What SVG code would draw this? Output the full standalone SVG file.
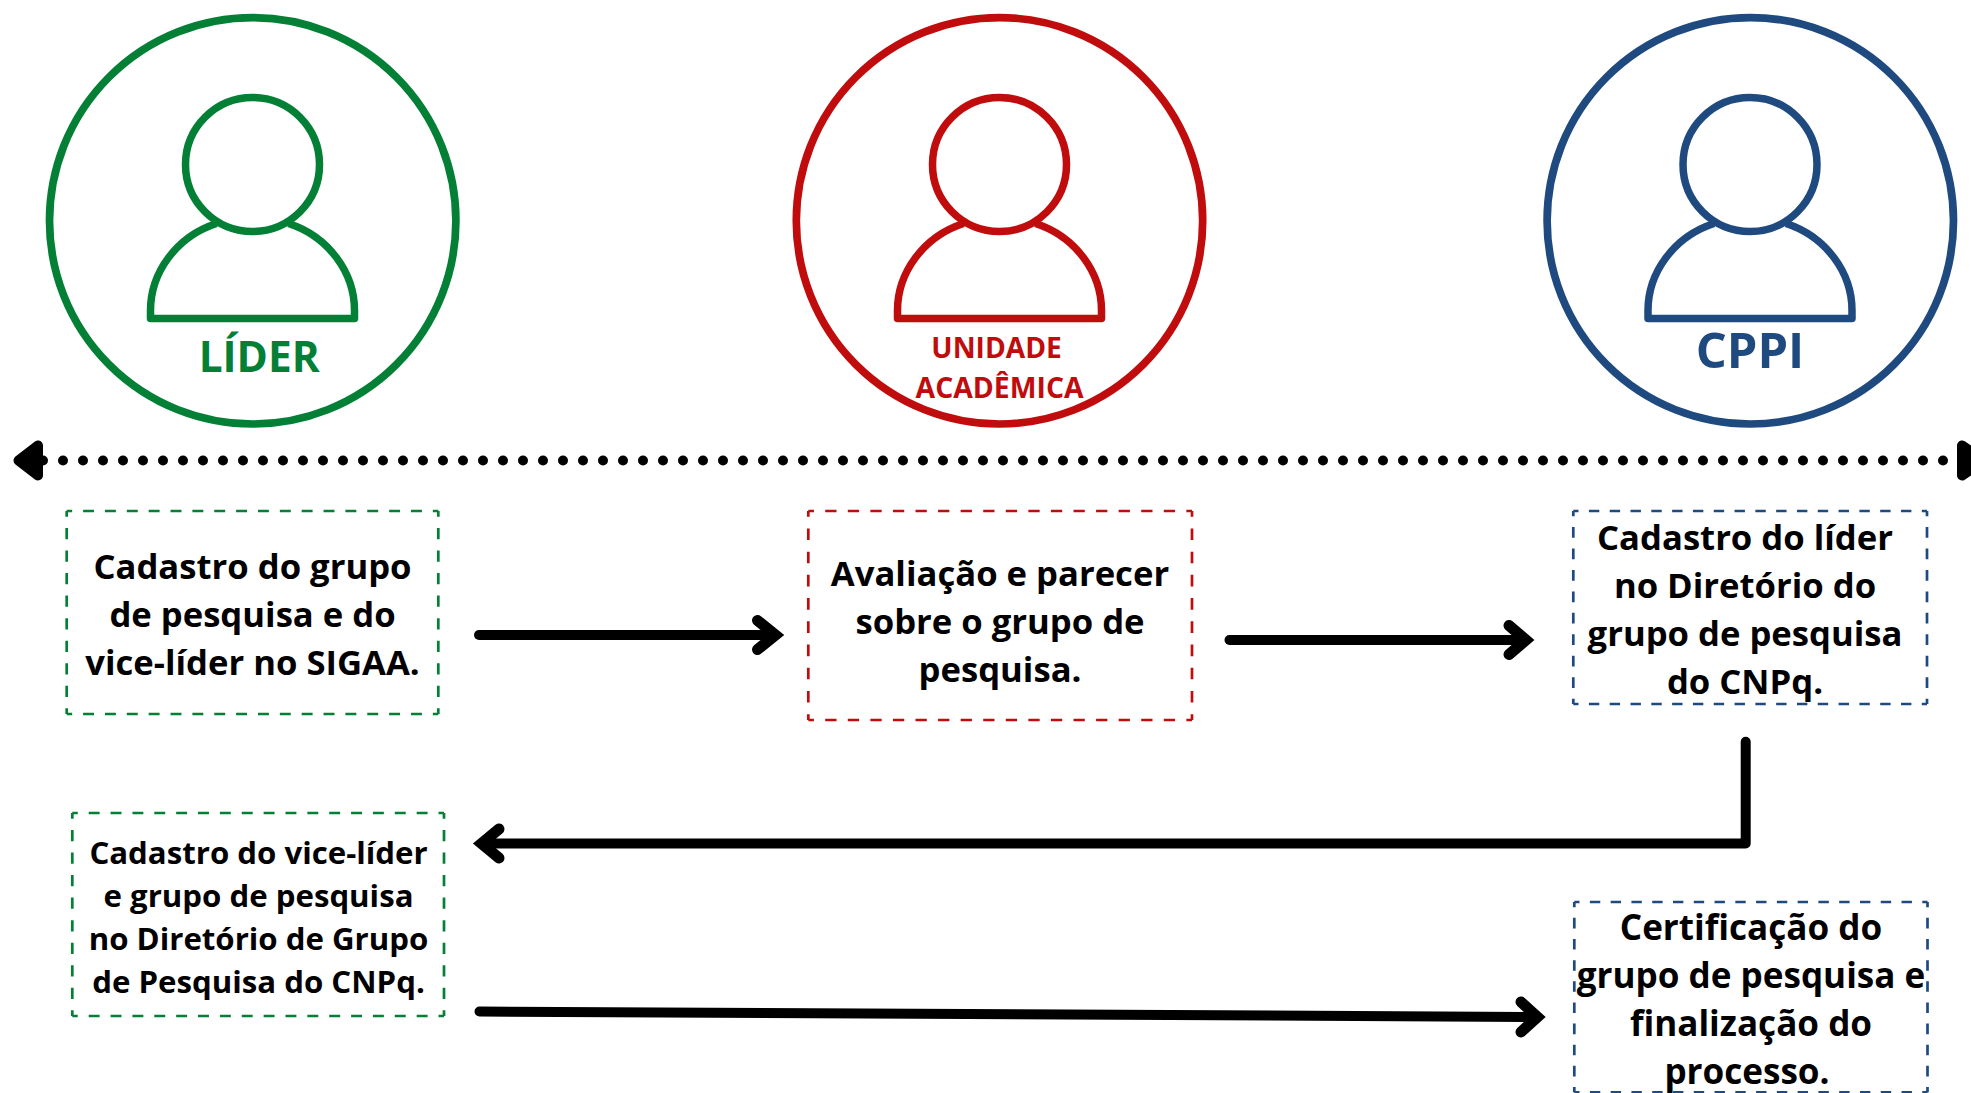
<svg xmlns="http://www.w3.org/2000/svg" width="1971" height="1093" viewBox="0 0 1971 1093">
<style>
text{font-family:"Open Sans","Noto Sans",sans-serif;font-weight:700;text-anchor:middle}
.t{font-size:34.65px;fill:#000}
.u{font-size:35.1px;fill:#000}
.s{font-size:31.2px;fill:#000}
.g{stroke:#038035}.r{stroke:#c00c0c}.b{stroke:#1f4a7f}
.ring{fill:none;stroke-width:7.7}
.ico{fill:none;stroke-width:7.5;stroke-linejoin:round}
.box path{fill:none;stroke-width:2.7;stroke-dasharray:.5 .5;stroke-dashoffset:.25}
.c{fill:none;stroke:#000;stroke-width:10;stroke-linecap:round;stroke-linejoin:round}
.h{fill:none;stroke:#000;stroke-width:11;stroke-linecap:round;stroke-linejoin:miter;stroke-miterlimit:6}
.ah{fill:#000;stroke:#000;stroke-width:10;stroke-linejoin:round}
</style>
<defs>
<g id="person">
<circle cx="0" cy="-56" r="67"/>
<path d="M-36 3C-76 16-102 52-102 90V98H102V90C102 52 76 16 36 3"/>
</g>
</defs>
<g id="lider">
<circle class="ring g" cx="252.7" cy="220.8" r="203.2"/>
<use href="#person" class="ico g" x="252.5" y="220.5"/>
<text x="259.2" y="372" font-size="42.4" fill="#038035">LÍDER</text>
</g>
<g id="unidade">
<circle class="ring r" cx="999.5" cy="220.8" r="203.2"/>
<use href="#person" class="ico r" x="999.5" y="220.5"/>
<text x="996.6" y="358" font-size="28.2" fill="#c00c0c">UNIDADE</text>
<text x="999.6" y="398" font-size="28.4" fill="#c00c0c">ACADÊMICA</text>
</g>
<g id="cppi">
<circle class="ring b" cx="1750.3" cy="220.8" r="203.2"/>
<use href="#person" class="ico b" x="1750" y="220.5"/>
<text x="1750" y="368" font-size="48.8" fill="#1f4a7f">CPPI</text>
</g>
<g id="connectors">
<path d="M43 460.5H1944" fill="none" stroke="#000" stroke-width="10" stroke-linecap="round" stroke-dasharray="0 20"/>
<path class="ah" d="M18.5 460.5L38 445.5V475.5Z"/>
<path class="ah" d="M1962 445.5V475.5L1984 460.5Z"/>
<path class="c" d="M479 635H775"/><path class="h" d="M757.5 620.5L775.5 635L757.5 649.5"/>
<path class="c" d="M1229.5 640H1525"/><path class="h" d="M1509 625.5L1526 640L1509 654.5"/>
<path class="c" d="M1745.7 741.7V843.5H482"/><path class="h" d="M499 829L481.5 843.5L499 858"/>
<path class="c" d="M479.5 1011.5L1537 1017"/><path class="h" d="M1521 1002L1537.5 1017L1521 1032"/>
</g>
<g id="box1" class="box">
<path class="g" pathLength="17" d="M66.7 511H438.3"/><path class="g" pathLength="17" d="M66.7 714H438.3"/>
<path class="g" pathLength="9" d="M66.7 511V714"/><path class="g" pathLength="9" d="M438.3 511V714"/>
<text class="t" x="252.5" y="578.5">Cadastro do grupo</text>
<text class="t" x="252.5" y="626.5">de pesquisa e do</text>
<text class="t" x="252.5" y="674.5">vice-líder no SIGAA.</text>
</g>
<g id="box2" class="box">
<path class="r" pathLength="17" d="M808.3 511H1192"/><path class="r" pathLength="17" d="M808.3 720H1192"/>
<path class="r" pathLength="9" d="M808.3 511V720"/><path class="r" pathLength="9" d="M1192 511V720"/>
<text class="t" x="1000" y="585.5">Avaliação e parecer</text>
<text class="t" x="1000" y="633.5">sobre o grupo de</text>
<text class="t" x="1000" y="681.5">pesquisa.</text>
</g>
<g id="box3" class="box">
<path class="b" pathLength="17" d="M1573.3 511H1927"/><path class="b" pathLength="17" d="M1573.3 704H1927"/>
<path class="b" pathLength="9" d="M1573.3 511V704"/><path class="b" pathLength="9" d="M1927 511V704"/>
<text class="t" x="1745" y="549.5">Cadastro do líder</text>
<text class="t" x="1745" y="597.5">no Diretório do</text>
<text class="t" x="1745" y="645.5">grupo de pesquisa</text>
<text class="t" x="1745" y="693.5">do CNPq.</text>
</g>
<g id="box4" class="box">
<path class="g" pathLength="17" d="M72.3 813H444"/><path class="g" pathLength="17" d="M72.3 1016H444"/>
<path class="g" pathLength="9" d="M72.3 813V1016"/><path class="g" pathLength="9" d="M444 813V1016"/>
<text class="s" x="258.5" y="863.5">Cadastro do vice-líder</text>
<text class="s" x="258.5" y="906.5">e grupo de pesquisa</text>
<text class="s" x="258.5" y="949.5">no Diretório de Grupo</text>
<text class="s" x="258.5" y="992.5">de Pesquisa do CNPq.</text>
</g>
<g id="box5" class="box">
<path class="b" pathLength="17" d="M1574.3 902H1927.5"/><path class="b" pathLength="17" d="M1574.3 1092.3H1927.5"/>
<path class="b" pathLength="9" d="M1574.3 902V1092.3"/><path class="b" pathLength="9" d="M1927.5 902V1092.3"/>
<text class="u" x="1751" y="939.5">Certificação do</text>
<text class="u" x="1751" y="987.5">grupo de pesquisa e</text>
<text class="u" x="1751" y="1035.5">finalização do</text>
<text class="u" x="1747" y="1083.5">processo.</text>
</g>
</svg>
